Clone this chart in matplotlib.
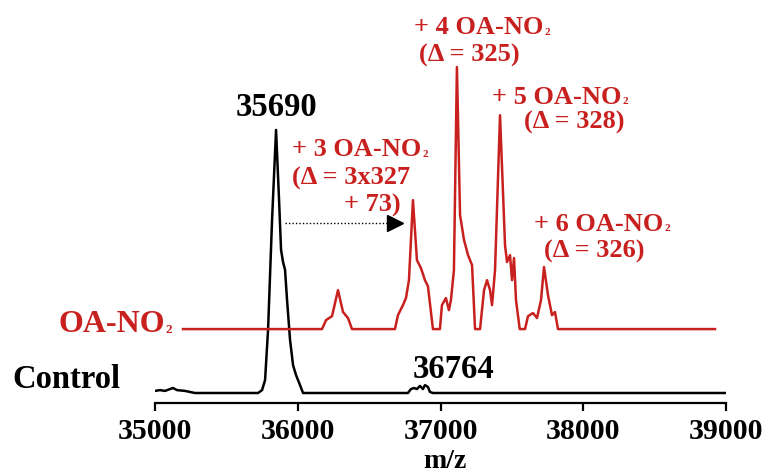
import matplotlib
matplotlib.use("Agg")
import matplotlib.pyplot as plt
from matplotlib.lines import Line2D

plt.rcParams["font.family"] = ["Liberation Serif", "DejaVu Serif"]
plt.rcParams["font.weight"] = "bold"

# ---------------------------------------------------------------------------
# data
# ---------------------------------------------------------------------------
control_mz = [35000, 35035, 35070, 35105, 35126, 35154, 35210, 35245, 35280,
              35722, 35750, 35771, 35792, 35820, 35848, 35869, 35883, 35897,
              35911, 35925, 35946, 35967, 35988, 36016, 36037,
              36772, 36793, 36814, 36835, 36856, 36877, 36891, 36912, 36926,
              36947, 39000]
control_int = [0.8, 1.1, 0.8, 1.5, 1.9, 1.1, 0.8, 0.4, 0.0,
               0.0, 1.1, 4.9, 24.0, 65.8, 100.0, 73.4, 54.4, 49.8,
               46.8, 35.4, 20.2, 10.6, 6.8, 3.0, 0.0,
               0.0, 1.5, 1.9, 1.5, 2.7, 1.5, 3.0, 2.3, 0.4,
               0.0, 0.0]

oa_mz = [35196, 36170, 36198, 36240, 36282, 36317, 36352, 36380,
         36681, 36702, 36737, 36758, 36779, 36807, 36835, 36863, 36891, 36912,
         36947, 36996, 37010, 37038, 37059, 37073, 37094, 37115, 37137, 37165,
         37193, 37221, 37242, 37277, 37305, 37326, 37347, 37361, 37382, 37417,
         37452, 37466, 37487, 37501, 37515, 37529, 37555, 37592, 37613, 37648,
         37676, 37704, 37725, 37753, 37781, 37802, 37823, 38923]
oa_int = [0.0, 0.0, 3.4, 4.9, 14.8, 6.5, 4.2, 0.0,
          0.0, 5.3, 9.1, 11.8, 18.6, 49.0, 26.2, 23.2, 18.6, 16.3,
          0.0, 0.0, 9.1, 11.8, 7.2, 11.0, 22.4, 99.6, 43.3, 33.8,
          28.1, 24.3, 0.0, 0.0, 14.8, 18.6, 14.8, 9.1, 22.4, 81.3,
          31.9, 25.5, 28.1, 18.6, 27.0, 11.0, 0.0, 0.0, 4.9, 6.1,
          4.2, 11.0, 23.6, 12.9, 5.3, 6.5, 0.0, 0.0]
oa_offset = 24.3

xticks = [35000, 36000, 37000, 38000, 39000]

RED = "#c8201e"
W, H = 764, 475


def px(x, y):
    return x / W, 1 - y / H


fig = plt.figure(figsize=(W / 100, H / 100), dpi=100)
fig.patch.set_facecolor("white")
renderer = fig.canvas.get_renderer()

ax = fig.add_axes([155 / W, (H - 403) / H, 571 / W, 403 / H])
ax.set_xlim(35000, 39000)
ax.set_ylim(-3.8, 149.4)

ax.plot(control_mz, control_int, color="black", lw=1.8, solid_joinstyle="round")
ax.plot(oa_mz, [v + oa_offset for v in oa_int], color=RED, lw=1.8,
        solid_joinstyle="round")

for s in ("top", "right", "left"):
    ax.spines[s].set_visible(False)
ax.spines["bottom"].set_linewidth(1.6)
ax.set_yticks([])
ax.set_xticks(xticks)
ax.set_xticklabels([str(t) for t in xticks])
ax.tick_params(axis="x", direction="out", length=6, width=1.6, pad=5,
               labelsize=21.5)
for lab in ax.get_xticklabels():
    lab.set_fontweight("bold")
ax.patch.set_alpha(0)


def sub2_text(x, y, s, fs, color):
    """left-aligned text followed by a small subscript 2"""
    t = fig.text(*px(x, y), s, ha="left", va="center", fontsize=fs,
                 color=color, fontweight="bold")
    bb = t.get_window_extent(renderer)
    em = fs * 100 / 72
    fig.text((bb.x1 + 1) / W, (bb.y0 + 0.17 * em) / H, "2",
             ha="left", va="baseline", fontsize=fs * 0.42, color=color,
             fontweight="bold")
    return t


fig.text(*px(445, 462), "m/z", ha="center", va="center", fontsize=20,
         fontweight="bold")

# trace names
fig.text(*px(12, 379), "Control", ha="left", va="center", fontsize=23.5,
         fontweight="bold", color="black")
sub2_text(58, 324, "OA-NO", 23, RED)

# peak labels
fig.text(*px(276, 108), "35690", ha="center", va="center", fontsize=23.5,
         fontweight="bold")
fig.text(*px(454, 369), "36764", ha="center", va="center", fontsize=23.5,
         fontweight="bold")

fs = 19
sub2_text(292, 150, "+ 3 OA-NO", fs, RED)
fig.text(*px(292, 178), "(\u0394 = 3x327", ha="left", va="center", fontsize=fs,
         color=RED)
fig.text(*px(401, 205), "+ 73)", ha="right", va="center", fontsize=fs,
         color=RED)

sub2_text(414, 28, "+ 4 OA-NO", fs, RED)
fig.text(*px(419, 55), "(\u0394 = 325)", ha="left", va="center", fontsize=fs,
         color=RED)

sub2_text(492, 97, "+ 5 OA-NO", fs, RED)
fig.text(*px(524, 122), "(\u0394 = 328)", ha="left", va="center", fontsize=fs,
         color=RED)

sub2_text(534, 224, "+ 6 OA-NO", fs, RED)
fig.text(*px(544, 251), "(\u0394 = 326)", ha="left", va="center", fontsize=fs,
         color=RED)

# dotted shift arrow
x0, y0 = px(285, 223)
x1, _ = px(390, 223)
x2, _ = px(395, 223)
fig.add_artist(Line2D([x0, x1], [y0, y0], transform=fig.transFigure,
                      color="black", lw=1.0, ls=(0, (1, 1.5))))
fig.add_artist(Line2D([x2], [y0], transform=fig.transFigure, marker=">",
                      markersize=11, color="black", lw=0))

fig.savefig("out.png", dpi=100)
